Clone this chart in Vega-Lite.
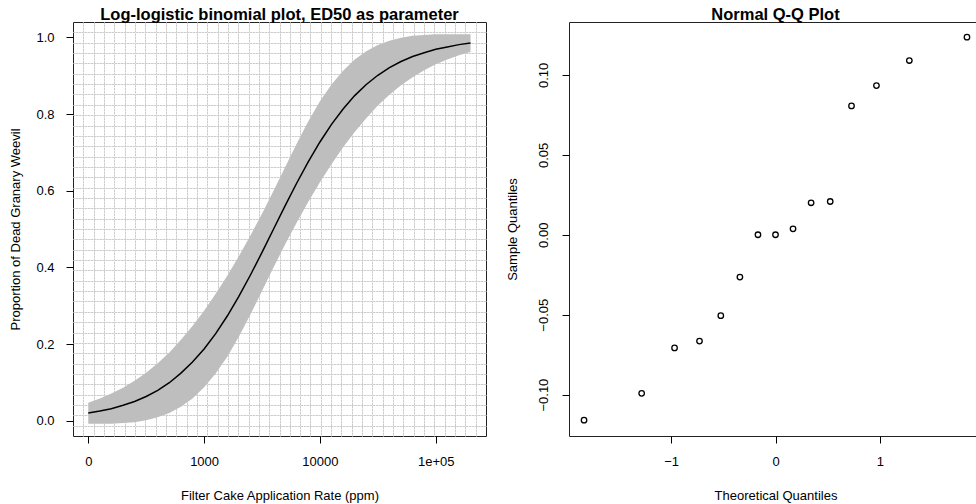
{
  "$schema": "https://vega.github.io/schema/vega-lite/v6.json",
  "padding": {"left": 8, "top": 6, "right": 0, "bottom": 0},
  "bounds": "flush",
  "spacing": 83,
  "config": {
    "font": "Liberation Sans",
    "view": {"stroke": "#222222", "strokeWidth": 1},
    "axis": {"labelFont": "Liberation Sans", "titleFont": "Liberation Sans", "labelFontSize": 13, "titleFontSize": 13, "labelColor": "#000000", "titleColor": "#000000", "titleFontWeight": "normal", "tickColor": "#000000", "tickWidth": 1},
    "title": {"font": "Liberation Sans", "fontSize": 16.5, "fontWeight": "bold", "color": "#000000"}
  },
  "datasets": {
    "curve": [
      {"dose": 100, "p": 0.020, "lo": -0.008, "hi": 0.047},
      {"dose": 126, "p": 0.025, "lo": -0.008, "hi": 0.058},
      {"dose": 158, "p": 0.031, "lo": -0.008, "hi": 0.071},
      {"dose": 200, "p": 0.040, "lo": -0.006, "hi": 0.086},
      {"dose": 251, "p": 0.050, "lo": -0.004, "hi": 0.104},
      {"dose": 316, "p": 0.063, "lo": 0.001, "hi": 0.125},
      {"dose": 398, "p": 0.079, "lo": 0.009, "hi": 0.150},
      {"dose": 501, "p": 0.099, "lo": 0.020, "hi": 0.178},
      {"dose": 631, "p": 0.124, "lo": 0.036, "hi": 0.211},
      {"dose": 794, "p": 0.153, "lo": 0.058, "hi": 0.247},
      {"dose": 1000, "p": 0.187, "lo": 0.087, "hi": 0.287},
      {"dose": 1259, "p": 0.227, "lo": 0.123, "hi": 0.331},
      {"dose": 1585, "p": 0.273, "lo": 0.167, "hi": 0.378},
      {"dose": 1995, "p": 0.324, "lo": 0.219, "hi": 0.429},
      {"dose": 2512, "p": 0.380, "lo": 0.277, "hi": 0.483},
      {"dose": 3162, "p": 0.439, "lo": 0.338, "hi": 0.540},
      {"dose": 3981, "p": 0.500, "lo": 0.400, "hi": 0.600},
      {"dose": 5012, "p": 0.561, "lo": 0.460, "hi": 0.662},
      {"dose": 6310, "p": 0.620, "lo": 0.517, "hi": 0.723},
      {"dose": 7943, "p": 0.676, "lo": 0.571, "hi": 0.781},
      {"dose": 10000, "p": 0.727, "lo": 0.622, "hi": 0.833},
      {"dose": 12589, "p": 0.773, "lo": 0.669, "hi": 0.877},
      {"dose": 15849, "p": 0.813, "lo": 0.713, "hi": 0.913},
      {"dose": 19953, "p": 0.848, "lo": 0.753, "hi": 0.942},
      {"dose": 25119, "p": 0.877, "lo": 0.789, "hi": 0.964},
      {"dose": 31623, "p": 0.901, "lo": 0.822, "hi": 0.980},
      {"dose": 39811, "p": 0.921, "lo": 0.850, "hi": 0.991},
      {"dose": 50119, "p": 0.937, "lo": 0.875, "hi": 0.999},
      {"dose": 63096, "p": 0.950, "lo": 0.896, "hi": 1.004},
      {"dose": 79433, "p": 0.960, "lo": 0.914, "hi": 1.006},
      {"dose": 100000, "p": 0.969, "lo": 0.930, "hi": 1.008},
      {"dose": 125893, "p": 0.975, "lo": 0.942, "hi": 1.008},
      {"dose": 158489, "p": 0.981, "lo": 0.953, "hi": 1.008},
      {"dose": 199526, "p": 0.985, "lo": 0.962, "hi": 1.008}
    ],
    "qq": [
      {"theo": -1.834, "sample": -0.1160},
      {"theo": -1.282, "sample": -0.0992},
      {"theo": -0.967, "sample": -0.0708},
      {"theo": -0.728, "sample": -0.0665},
      {"theo": -0.524, "sample": -0.0506},
      {"theo": -0.341, "sample": -0.0265},
      {"theo": -0.168, "sample": 0.0000},
      {"theo": 0.000, "sample": 0.0000},
      {"theo": 0.168, "sample": 0.0037},
      {"theo": 0.341, "sample": 0.0200},
      {"theo": 0.524, "sample": 0.0208},
      {"theo": 0.728, "sample": 0.0806},
      {"theo": 0.967, "sample": 0.0933},
      {"theo": 1.282, "sample": 0.1090},
      {"theo": 1.834, "sample": 0.1236}
    ]
  },
  "hconcat": [
    {
      "width": 413,
      "height": 414,
      "data": {"name": "curve"},
      "title": {"text": "Log-logistic binomial plot, ED50 as parameter", "anchor": "middle", "frame": "group", "baseline": "alphabetic", "offset": -14},
      "layer": [
        {
          "mark": {"type": "area", "color": "#bebebe", "opacity": 1},
          "encoding": {
            "x": {"field": "dose", "type": "quantitative",
              "scale": {"type": "log", "domain": [73.84, 271400], "nice": false, "zero": false},
              "axis": {"orient": "bottom", "values": [100, 1000, 10000, 100000], "labelExpr": "datum.value == 100 ? '0' : datum.value == 100000 ? '1e+05' : format(datum.value, 'd')", "grid": false, "domain": false, "tickSize": 7, "labelPadding": 12, "labelFlush": false, "labelOverlap": false, "title": "Filter Cake Application Rate (ppm)", "titleY": 53, "titleBaseline": "top"}},
            "y": {"field": "lo", "type": "quantitative",
              "scale": {"domain": [-0.04, 1.04], "nice": false, "zero": false},
              "axis": {"orient": "left", "values": [0, 0.2, 0.4, 0.6, 0.8, 1.0], "format": ".1f", "grid": false, "domain": false, "tickSize": 7, "labelPadding": 12, "labelAngle": 0, "labelFlush": false, "labelOverlap": false, "title": "Proportion of Dead Granary Weevil", "titleX": -58, "titleY": 207, "titleAngle": 270, "titleBaseline": "middle", "titleAlign": "center"}},
            "y2": {"field": "hi"}
          }
        },
        {
          "mark": {"type": "line", "color": "#000000", "strokeWidth": 1.5},
          "encoding": {
            "x": {"field": "dose", "type": "quantitative",
              "axis": {"orient": "top", "grid": true, "gridColor": "#e6e6e6", "gridWidth": 1, "labels": false, "ticks": false, "domain": false, "title": null, "minExtent": 0, "maxExtent": 0,
                "values": [90.66, 111.3, 136.7, 167.8, 206.1, 253.0, 310.7, 381.4, 468.3, 575.0, 706.0, 866.8, 1064, 1307, 1604, 1970, 2418, 2969, 3646, 4477, 5497, 6749, 8287, 10174, 12493, 15339, 18833, 23121, 28388, 34856, 42797, 52547, 64518, 79217, 97250, 119420, 146620, 180020, 221040]}},
            "y": {"field": "p", "type": "quantitative",
              "axis": {"orient": "right", "grid": true, "gridColor": "#e6e6e6", "gridWidth": 1, "labels": false, "ticks": false, "domain": false, "title": null, "minExtent": 0, "maxExtent": 0,
                "values": [-0.013, 0.014, 0.041, 0.068, 0.095, 0.122, 0.149, 0.176, 0.203, 0.23, 0.257, 0.284, 0.311, 0.338, 0.365, 0.392, 0.419, 0.446, 0.473, 0.5, 0.527, 0.554, 0.581, 0.608, 0.635, 0.662, 0.689, 0.716, 0.743, 0.77, 0.797, 0.824, 0.851, 0.878, 0.905, 0.932, 0.959, 0.986, 1.013]}}
          }
        },
        {
          "mark": {"type": "line", "strokeOpacity": 0},
          "encoding": {
            "x": {"field": "dose", "type": "quantitative",
              "axis": {"orient": "bottom", "grid": true, "gridColor": "#b4b4b4", "gridWidth": 1, "gridDash": [1, 2], "labels": false, "ticks": false, "domain": false, "title": null, "minExtent": 0, "maxExtent": 0,
                "values": [90.66, 111.3, 136.7, 167.8, 206.1, 253.0, 310.7, 381.4, 468.3, 575.0, 706.0, 866.8, 1064, 1307, 1604, 1970, 2418, 2969, 3646, 4477, 5497, 6749, 8287, 10174, 12493, 15339, 18833, 23121, 28388, 34856, 42797, 52547, 64518, 79217, 97250, 119420, 146620, 180020, 221040]}},
            "y": {"field": "p", "type": "quantitative",
              "axis": {"orient": "left", "grid": true, "gridColor": "#b4b4b4", "gridWidth": 1, "gridDash": [1, 2], "labels": false, "ticks": false, "domain": false, "title": null, "minExtent": 0, "maxExtent": 0,
                "values": [-0.013, 0.014, 0.041, 0.068, 0.095, 0.122, 0.149, 0.176, 0.203, 0.23, 0.257, 0.284, 0.311, 0.338, 0.365, 0.392, 0.419, 0.446, 0.473, 0.5, 0.527, 0.554, 0.581, 0.608, 0.635, 0.662, 0.689, 0.716, 0.743, 0.77, 0.797, 0.824, 0.851, 0.878, 0.905, 0.932, 0.959, 0.986, 1.013]}}
          }
        }
      ],
      "resolve": {"axis": {"x": "independent", "y": "independent"}}
    },
    {
      "width": 413,
      "height": 414,
      "data": {"name": "qq"},
      "title": {"text": "Normal Q-Q Plot", "anchor": "middle", "frame": "group", "baseline": "alphabetic", "offset": -14},
      "mark": {"type": "point", "shape": "circle", "filled": false, "stroke": "#000000", "strokeWidth": 1.3, "size": 30, "opacity": 1},
      "encoding": {
        "x": {"field": "theo", "type": "quantitative",
          "scale": {"domain": [-1.978, 1.978], "nice": false, "zero": false},
          "axis": {"values": [-1, 0, 1], "grid": false, "domain": false, "tickSize": 7, "labelPadding": 12, "labelFlush": false, "title": "Theoretical Quantiles", "titleY": 53, "titleBaseline": "top"}},
        "y": {"field": "sample", "type": "quantitative",
          "scale": {"domain": [-0.1259, 0.1331], "nice": false, "zero": false},
          "axis": {"values": [-0.1, -0.05, 0, 0.05, 0.1], "format": ".2f", "grid": false, "domain": false, "tickSize": 7, "labelAngle": 270, "labelAlign": "center", "labelBaseline": "middle", "labelPadding": 19, "labelFlush": false, "labelOverlap": false, "title": "Sample Quantiles", "titleX": -57, "titleY": 207, "titleAngle": 270, "titleBaseline": "middle", "titleAlign": "center"}}
      }
    }
  ]
}
